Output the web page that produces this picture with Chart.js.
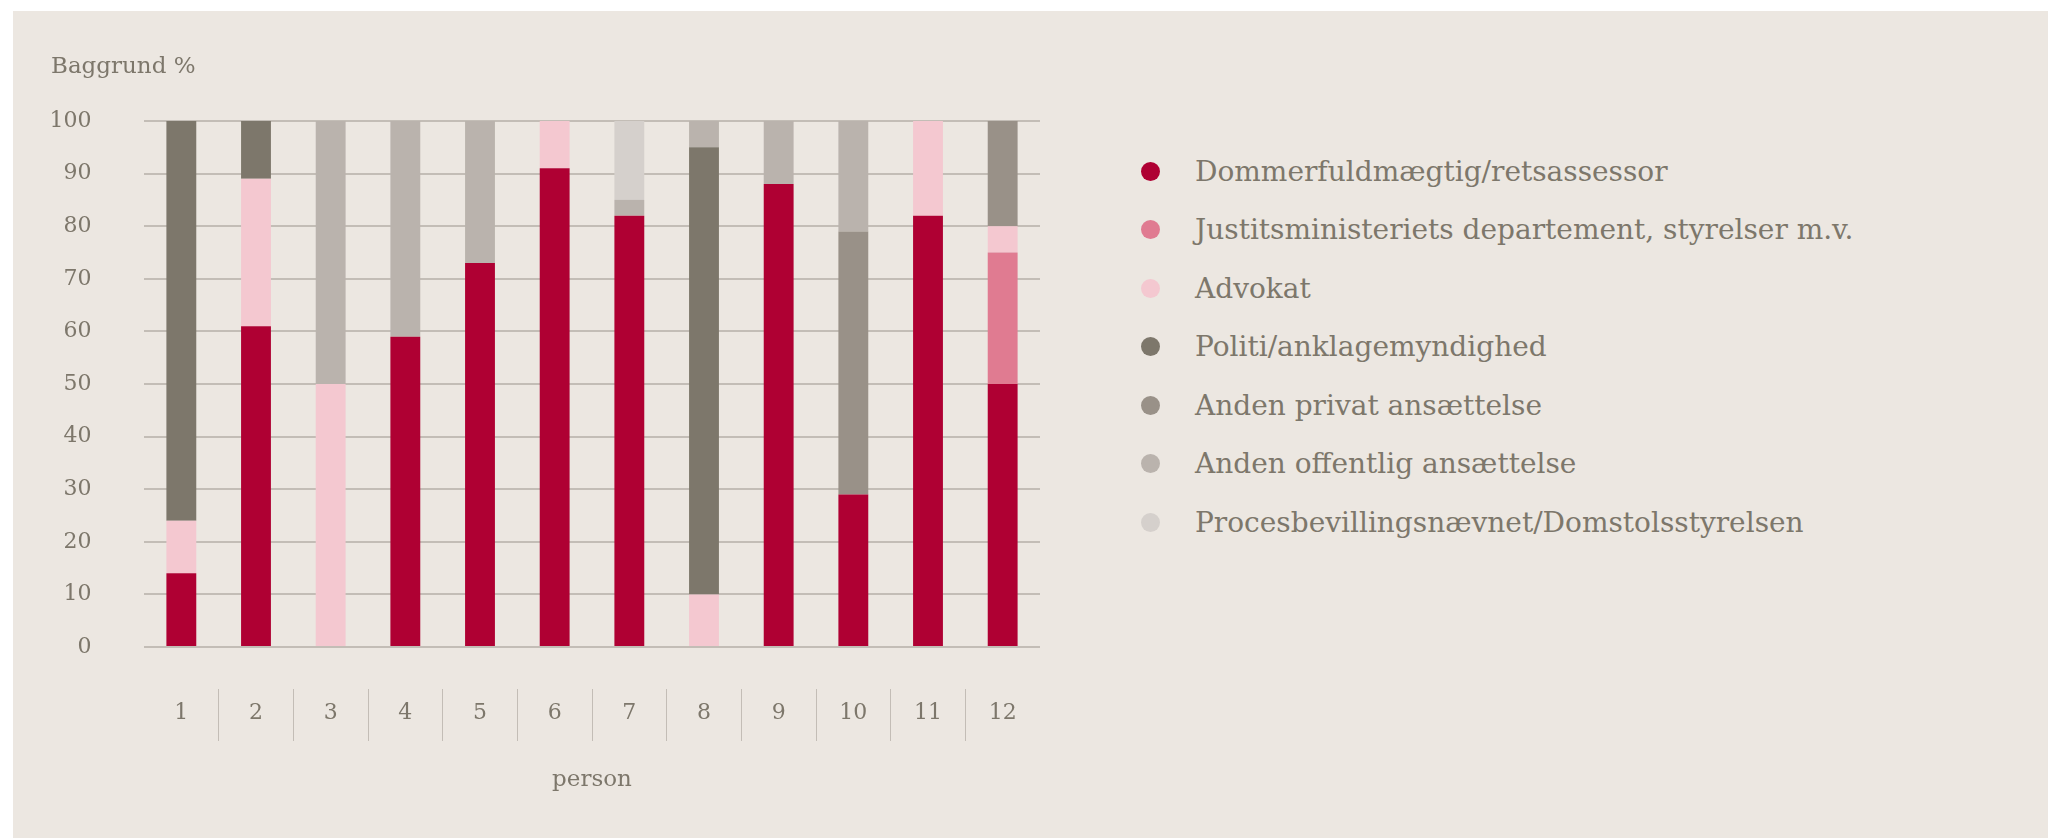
<!DOCTYPE html>
<html lang="da">
<head>
<meta charset="utf-8">
<title>Baggrund %</title>
<script src="https://cdn.jsdelivr.net/npm/chart.js@4"></script>
<style>
  body { margin: 0; background: #fff; font-family: "DejaVu Serif", serif; }
  #baggrund { position: absolute; left: 13px; top: 11px; width: 2035px; height: 827px; background: #ece7e1; }
  #grafBoks { position: absolute; left: 0; top: 0; width: 1060px; height: 838px; }
  #forklaring { position: absolute; left: 1141px; top: 142px; margin: 0; padding: 0; list-style: none; }
  #forklaring li { height: 58.5px; display: flex; align-items: center; font-size: 28px; color: #7d776b; white-space: nowrap; }
  #forklaring .prik { width: 19px; height: 19px; border-radius: 50%; margin-right: 35px; flex: none; }
</style>
</head>
<body>
<div id="baggrund"></div>
<div id="grafBoks"><canvas id="graf"></canvas></div>
<ul id="forklaring"></ul>

<script>
// ===============================
// DATA
// ===============================

const personer = ["1", "2", "3", "4", "5", "6", "7", "8", "9", "10", "11", "12"];

const dommerfuldmaegtig = [14, 61, 0, 59, 73, 91, 82, 0, 88, 29, 82, 50];
const justitsministeriet = [0, 0, 0, 0, 0, 0, 0, 0, 0, 0, 0, 25];
const advokat = [10, 28, 50, 0, 0, 9, 0, 10, 0, 0, 18, 5];
const politi = [76, 11, 0, 0, 0, 0, 0, 85, 0, 0, 0, 0];
const andenPrivat = [0, 0, 0, 0, 0, 0, 0, 0, 0, 50, 0, 20];
const andenOffentlig = [0, 0, 50, 41, 27, 0, 3, 5, 12, 21, 0, 0];
const procesbevilling = [0, 0, 0, 0, 0, 0, 15, 0, 0, 0, 0, 0];

const serieNavne = [
  "Dommerfuldmægtig/retsassessor",
  "Justitsministeriets departement, styrelser m.v.",
  "Advokat",
  "Politi/anklagemyndighed",
  "Anden privat ansættelse",
  "Anden offentlig ansættelse",
  "Procesbevillingsnævnet/Domstolsstyrelsen"
];

const serieData = [
  dommerfuldmaegtig,
  justitsministeriet,
  advokat,
  politi,
  andenPrivat,
  andenOffentlig,
  procesbevilling
];

const serieFarver = ["#af0033", "#e07b91", "#f4c8d0", "#7d776b", "#999188", "#bab3ad", "#d5d0cc"];

// ===============================
// UDSEENDE
// ===============================

const tekstFarve = "#7d776b";
const linjeFarve = "#c3bdb6";
const skrift = "'DejaVu Serif', serif";

// ===============================
// GRAF
// ===============================

const datasets = serieNavne.map(function (navn, i) {
  return {
    label: navn,
    data: serieData[i],
    backgroundColor: serieFarver[i],
    borderWidth: 0,
    barPercentage: 0.4,
    categoryPercentage: 1.0
  };
});

const ctx = document.getElementById("graf").getContext("2d");

const graf = new Chart(ctx, {
  type: "bar",
  data: {
    labels: personer,
    datasets: datasets
  },
  options: {
    responsive: true,
    maintainAspectRatio: false,
    animation: false,
    layout: {
      padding: { left: 51, right: 20, top: 0, bottom: 40.2 }
    },
    plugins: {
      legend: { display: false },
      tooltip: { enabled: false },
      title: {
        display: true,
        text: "Baggrund %",
        align: "start",
        color: tekstFarve,
        font: { family: skrift, size: 23, weight: "normal" },
        padding: { top: 53, bottom: 40.4 }
      }
    },
    scales: {
      x: {
        stacked: true,
        border: { display: false },
        grid: {
          display: true,
          offset: true,
          drawOnChartArea: false,
          drawTicks: true,
          tickLength: 94,
          tickWidth: 1,
          tickBorderDash: [0, 42, 52, 200],
          tickColor: function (c) {
            return c.index > 0 ? linjeFarve : "rgba(0,0,0,0)";
          }
        },
        ticks: {
          padding: -41.2,
          color: tekstFarve,
          font: { family: skrift, size: 22 }
        },
        title: {
          display: true,
          text: "person",
          color: tekstFarve,
          font: { family: skrift, size: 23 },
          padding: { top: 81.2, bottom: 4 }
        }
      },
      y: {
        stacked: true,
        min: 0,
        max: 100,
        border: { display: false },
        grid: {
          color: linjeFarve,
          lineWidth: 2,
          drawTicks: false
        },
        ticks: {
          stepSize: 10,
          padding: 52.5,
          color: tekstFarve,
          font: { family: skrift, size: 22 }
        },
        afterFit: function (akse) {
          akse.width = 93;
        }
      }
    }
  }
});

// ===============================
// FORKLARING
// ===============================

const forklaring = document.getElementById("forklaring");

serieNavne.forEach(function (navn, i) {
  const punkt = document.createElement("li");
  punkt.innerHTML = `<span class="prik" style="background:${serieFarver[i]}"></span>${navn}`;
  forklaring.appendChild(punkt);
});
</script>
</body>
</html>
